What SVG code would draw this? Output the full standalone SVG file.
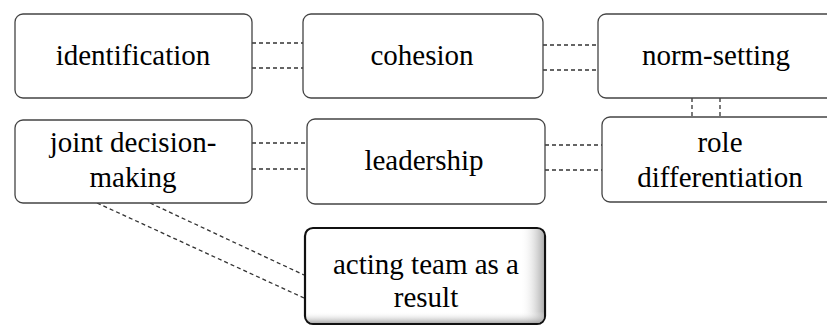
<svg xmlns="http://www.w3.org/2000/svg" width="827" height="327" viewBox="0 0 827 327">
  <style>
    .box { fill: #ffffff; stroke: #444444; stroke-width: 1.3; }
    .conn { stroke: #333333; stroke-width: 1.3; stroke-dasharray: 4 3; fill: none; }
  </style>
  <defs>
    <linearGradient id="shadeX" x1="0" y1="0" x2="1" y2="0">
      <stop offset="0.9" stop-color="#ffffff" stop-opacity="0"/>
      <stop offset="1" stop-color="#9a9a9a" stop-opacity="0.8"/>
    </linearGradient>
    <linearGradient id="shadeY" x1="0" y1="0" x2="0" y2="1">
      <stop offset="0.88" stop-color="#ffffff" stop-opacity="0"/>
      <stop offset="1" stop-color="#9a9a9a" stop-opacity="0.8"/>
    </linearGradient>
  </defs>
  <rect width="827" height="327" fill="#ffffff"/>

  <g id="connectors">
    <line class="conn" x1="252" y1="43" x2="303" y2="43"/>
    <line class="conn" x1="252" y1="68" x2="303" y2="68"/>
    <line class="conn" x1="543" y1="45" x2="598" y2="45"/>
    <line class="conn" x1="543" y1="70" x2="598" y2="70"/>
    <line class="conn" x1="692" y1="98" x2="692" y2="117"/>
    <line class="conn" x1="720" y1="98" x2="720" y2="117"/>
    <line class="conn" x1="252" y1="143" x2="307" y2="143"/>
    <line class="conn" x1="252" y1="169" x2="307" y2="169"/>
    <line class="conn" x1="545" y1="145" x2="602" y2="145"/>
    <line class="conn" x1="545" y1="170" x2="602" y2="170"/>
    <line class="conn" x1="97" y1="203" x2="304" y2="298"/>
    <line class="conn" x1="150" y1="203" x2="304" y2="275"/>
  </g>

  <g id="identification">
    <rect class="box" x="15" y="14" width="237" height="84" rx="8"/>
    <text x="133" y="65" style="font-family:'Liberation Serif',serif;font-size:29px" text-anchor="middle">identification</text>
  </g>
  <g id="cohesion">
    <rect class="box" x="303" y="14" width="240" height="84" rx="8"/>
    <text x="422" y="65" style="font-family:'Liberation Serif',serif;font-size:29px" text-anchor="middle">cohesion</text>
  </g>
  <g id="norm-setting">
    <rect class="box" x="598" y="14" width="237" height="84" rx="8"/>
    <text x="716" y="65" style="font-family:'Liberation Serif',serif;font-size:29px" text-anchor="middle">norm-setting</text>
  </g>
  <g id="joint-decision-making">
    <rect class="box" x="15" y="120" width="237" height="83" rx="8"/>
    <text x="133" y="152" style="font-family:'Liberation Serif',serif;font-size:29px" text-anchor="middle">joint decision-</text>
    <text x="133" y="187" style="font-family:'Liberation Serif',serif;font-size:29px" text-anchor="middle">making</text>
  </g>
  <g id="leadership">
    <rect class="box" x="307" y="119" width="238" height="85" rx="8"/>
    <text x="424" y="170" style="font-family:'Liberation Serif',serif;font-size:29px" text-anchor="middle">leadership</text>
  </g>
  <g id="role-differentiation">
    <rect class="box" x="602" y="117" width="237" height="85" rx="8"/>
    <text x="720" y="152" style="font-family:'Liberation Serif',serif;font-size:29px" text-anchor="middle">role</text>
    <text x="720" y="187" style="font-family:'Liberation Serif',serif;font-size:29px" text-anchor="middle">differentiation</text>
  </g>
  <g id="acting-team">
    <rect x="305" y="228" width="240" height="96" rx="8" fill="#ffffff" stroke="#111111" stroke-width="2.2"/>
    <rect x="306" y="229" width="238" height="94" rx="7" fill="url(#shadeX)"/>
    <rect x="306" y="229" width="238" height="94" rx="7" fill="url(#shadeY)"/>
    <text x="426" y="274" style="font-family:'Liberation Serif',serif;font-size:29px" text-anchor="middle">acting team as a</text>
    <text x="426" y="307" style="font-family:'Liberation Serif',serif;font-size:29px" text-anchor="middle">result</text>
  </g>
</svg>
